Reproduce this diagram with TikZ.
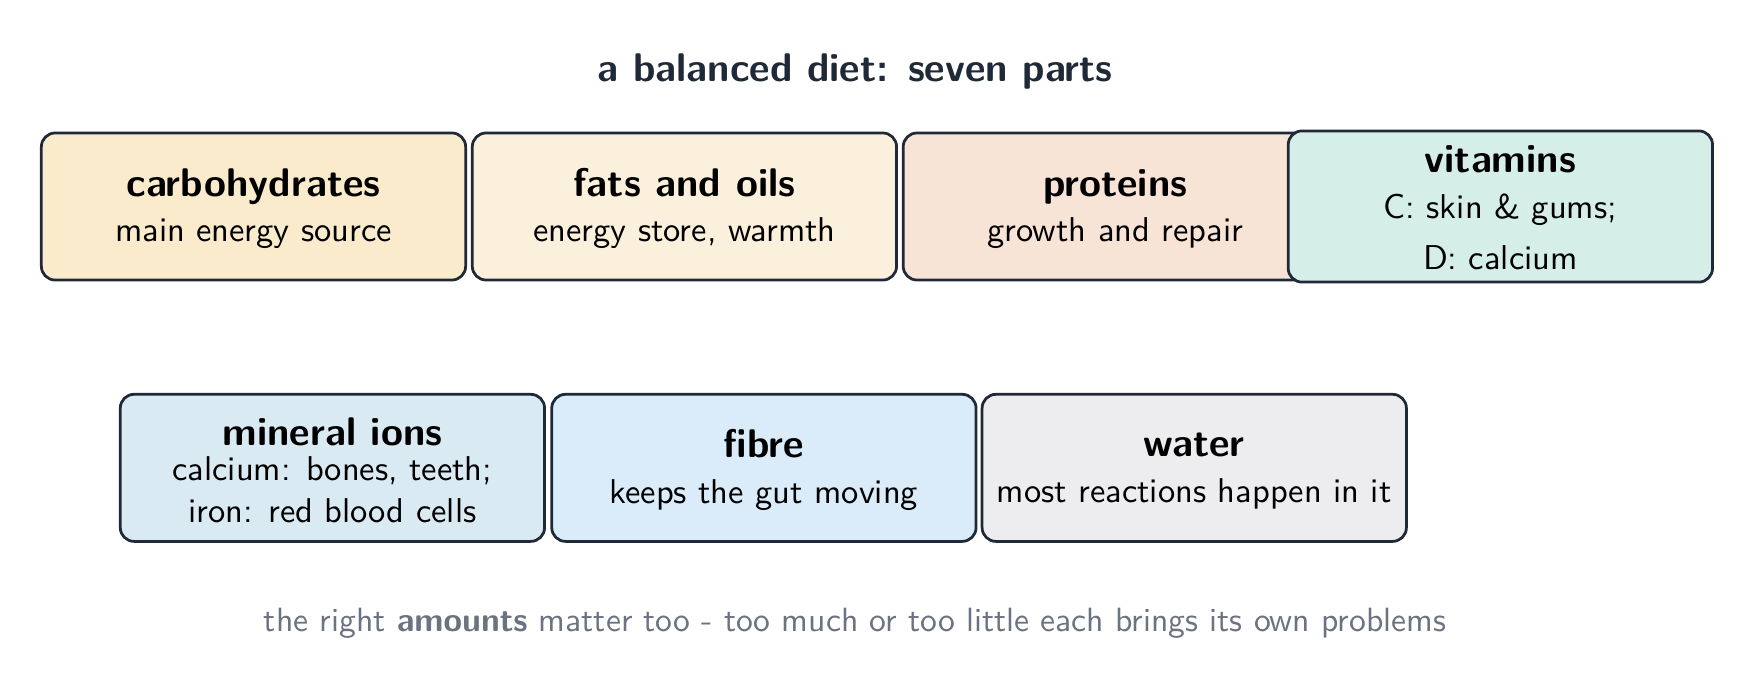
\documentclass[tikz,border=0pt]{standalone}
\usepackage{fontspec}
\renewcommand{\familydefault}{\sfdefault}
\definecolor{edge}{HTML}{1F2937}
\definecolor{titlec}{HTML}{1F2937}
\definecolor{footc}{HTML}{6B7280}
\definecolor{cCarb}{HTML}{FAEBCD}
\definecolor{cFat}{HTML}{FBF0DC}
\definecolor{cProt}{HTML}{F8E4D7}
\definecolor{cVit}{HTML}{D5EEE8}
\definecolor{cMin}{HTML}{DAEAF3}
\definecolor{cFib}{HTML}{DAECF9}
\definecolor{cWat}{HTML}{EDEDEF}
\begin{document}
\begin{tikzpicture}[x=0.325pt,y=-0.325pt,
  partbox/.style={draw=edge, line width=0.8pt, rounded corners=4pt,
    minimum width=123.2pt, minimum height=42.7pt, inner sep=0pt},
  head/.style={anchor=base, font=\sffamily\bfseries\fontsize{11.6}{14}\selectfont, inner sep=0pt},
  desc/.style={anchor=base, font=\sffamily\fontsize{10}{12}\selectfont, inner sep=0pt}]
\useasboundingbox (0,0) rectangle (1568,615.6);
\node[anchor=base, font=\sffamily\bfseries\fontsize{11.6}{14}\selectfont, text=titlec, inner sep=0pt] (title) at (764,73) {a balanced diet: seven parts};
% row 1
\node[partbox, fill=cCarb] (carb) at (226.5,184.5) {};
\node[head] (carbh) at ([yshift=2.9pt]carb.center) {carbohydrates};
\node[desc] (carbd) at ([yshift=-10.1pt]carb.center) {main energy source};
\node[partbox, fill=cFat] (fat) at (611.5,184.5) {};
\node[head] (fath) at ([yshift=2.9pt]fat.center) {fats and oils};
\node[desc] (fatd) at ([yshift=-10.1pt]fat.center) {energy store, warmth};
\node[partbox, fill=cProt] (prot) at (996.5,184.5) {};
\node[head] (proth) at ([yshift=2.9pt]prot.center) {proteins};
\node[desc] (protd) at ([yshift=-10.1pt]prot.center) {growth and repair};
\node[partbox, fill=cVit, minimum height=43.9pt] (vit) at (1340.5,184.5) {};
\node[head] (vith) at ([yshift=9.75pt]vit.center) {vitamins};
\node[desc] (vitd1) at ([yshift=-3.6pt]vit.center) {C: skin \& gums;};
\node[desc] (vitd2) at ([yshift=-18.2pt]vit.center) {D: calcium};
% row 2
\node[partbox, fill=cMin] (min) at (297,418) {};
\node[head] (minh) at ([yshift=6.5pt]min.center) {mineral ions};
\node[desc] (mind1) at ([yshift=-3.8pt]min.center) {calcium: bones, teeth;};
\node[desc] (mind2) at ([yshift=-16.0pt]min.center) {iron: red blood cells};
\node[partbox, fill=cFib] (fib) at (682.5,418) {};
\node[head] (fibh) at ([yshift=3.0pt]fib.center) {fibre};
\node[desc] (fibd) at ([yshift=-10.3pt]fib.center) {keeps the gut moving};
\node[partbox, fill=cWat] (wat) at (1067,418) {};
\node[head] (wath) at ([yshift=3.3pt]wat.center) {water};
\node[desc] (watd) at ([yshift=-10.1pt]wat.center) {most reactions happen in it};
% footer
\node[anchor=base, font=\sffamily\fontsize{9.77}{12}\selectfont, text=footc, inner sep=0pt] (foot) at (764,564) {the right \textbf{amounts} matter too - too much or too little each brings its own problems};
\end{tikzpicture}
\end{document}
